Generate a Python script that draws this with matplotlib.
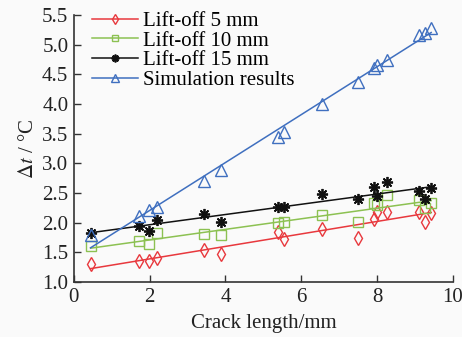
import numpy as np
import matplotlib
matplotlib.use("Agg")
import matplotlib.pyplot as plt
from matplotlib.ticker import FormatStrFormatter

# crack lengths (mm), shared by all series
crack = [0.44, 1.72, 1.98, 2.19, 3.43, 3.89, 5.38, 5.54, 6.56, 7.5,
         7.93, 7.99, 8.26, 9.1, 9.28, 9.43]

# delta t readings for each lift-off, and simulation
lift5 = [1.30, 1.35, 1.36, 1.41, 1.54, 1.47, 1.84, 1.73, 1.89, 1.74,
         2.07, 2.18, 2.18, 2.18, 2.02, 2.16]
lift10 = [1.60, 1.70, 1.65, 1.83, 1.81, 1.79, 1.99, 2.01, 2.13, 2.01,
          2.34, 2.30, 2.46, 2.38, 2.25, 2.34]
lift15 = [1.83, 1.95, 1.86, 2.05, 2.15, 2.01, 2.26, 2.27, 2.48, 2.40,
          2.60, 2.45, 2.68, 2.54, 2.40, 2.59]
sim = [1.79, 2.12, 2.21, 2.26, 2.71, 2.89, 3.44, 3.53, 4.00, 4.37,
       4.61, 4.66, 4.74, 5.17, 5.20, 5.29]

labels = ["Lift-off 5 mm", "Lift-off 10 mm", "Lift-off 15 mm", "Simulation results"]

plt.rcParams["font.family"] = ["Liberation Serif", "DejaVu Serif"]
plt.rcParams["mathtext.fontset"] = "stix"

fig = plt.figure(figsize=(4.62, 3.37), dpi=100, facecolor="#fafafa")
ax = fig.add_axes([0.160, 0.163, 0.820, 0.792])
ax.set_facecolor("#fafafa")

x = np.array(crack)
styles = [
    (lift5, "#e8383d", "d", 7.5, 1.0),
    (lift10, "#8cc152", "s", 6.5, 1.0),
    (lift15, "#111111", (8, 2, 0), 8, 1.3),
    (sim, "#3f6fbf", "^", 8.5, 1.0),
]
for (y, c, m, ms, mew), lab in zip(styles, labels):
    y = np.array(y)
    k, b = np.polyfit(x, y, 1)
    xs = np.array([x.min(), x.max()])
    ax.plot(xs, k * xs + b, color=c, lw=1.1)
    ax.plot(x, y, ls="none", marker=m, ms=ms, mfc="none", mec=c, mew=mew)
    # legend proxy: line with marker
    ax.plot([], [], color=c, lw=1.1, marker=m, ms=ms * 0.7, mfc="none",
            mec=c, mew=mew, label=lab)

ax.set_xlim(0, 10)
ax.set_ylim(1.0, 5.5)
ax.set_xticks([0, 2, 4, 6, 8, 10])
ax.set_yticks(np.arange(1.0, 5.51, 0.5))
ax.yaxis.set_major_formatter(FormatStrFormatter("%.1f"))
ax.tick_params(direction="in", labelsize=15, length=5, color="#333333",
               labelcolor="#222222", width=1.0)
ax.tick_params(axis="x", pad=4)
ax.tick_params(axis="y", pad=4)
ax.spines["top"].set_visible(False)
ax.spines["right"].set_visible(False)
for s in ["left", "bottom"]:
    ax.spines[s].set_color("#333333")
    ax.spines[s].set_linewidth(1.2)

ax.set_xlabel("Crack length/mm", fontsize=15, color="#222222", labelpad=5)
ax.set_ylabel(r"$\Delta t$ / °C", fontsize=15, color="#222222", labelpad=3)

ax.legend(loc="upper left", bbox_to_anchor=(0.026, 1.045), frameon=False,
          fontsize=15, handlelength=2.2, handletextpad=0.25,
          labelspacing=0.0, borderaxespad=0.0)

fig.savefig("out.png", dpi=100, facecolor=fig.get_facecolor())
